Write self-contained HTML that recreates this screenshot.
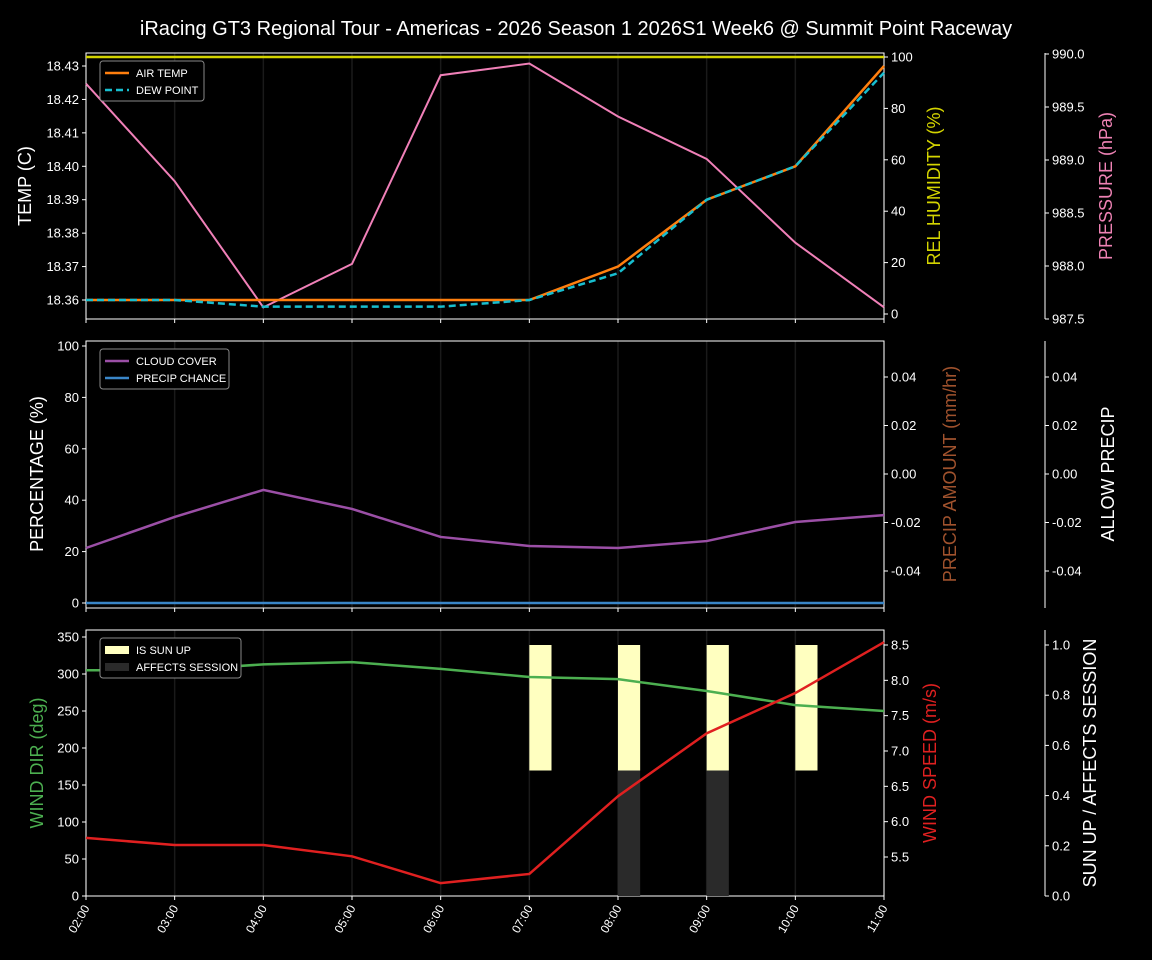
<!DOCTYPE html>
<html><head><meta charset="utf-8"><style>
html,body{margin:0;padding:0;background:#000;}
svg{display:block;font-family:"Liberation Sans","DejaVu Sans",sans-serif;}
</style></head><body>
<svg id="c" width="1152" height="960"></svg>
<script>
const hours=["02:00","03:00","04:00","05:00","06:00","07:00","08:00","09:00","10:00","11:00"];
const airTemp=[18.36,18.36,18.36,18.36,18.36,18.36,18.37,18.39,18.40,18.43];
const dewPoint=[18.36,18.36,18.358,18.358,18.358,18.36,18.368,18.39,18.40,18.428];
const humidity=[100,100,100,100,100,100,100,100,100,100];
const pressure=[989.72,988.80,987.61,988.02,989.80,989.91,989.41,989.01,988.22,987.61];
const cloudCover=[21.4,33.5,44,36.6,25.7,22.2,21.4,24.1,31.5,34.2];
const precipChance=[0,0,0,0,0,0,0,0,0,0];
const windDir=[305,305,313,316,307,296,293,277,258,250];
const windSpeed=[5.77,5.67,5.67,5.51,5.13,5.26,6.36,7.25,7.82,8.54];
const sunUp=[0,0,0,0,0,1,1,1,1,0];
const affects=[0,0,0,0,0,0,1,1,0,0];
const tempTicks=["18.36","18.37","18.38","18.39","18.40","18.41","18.42","18.43"];
const humTicks=[0,20,40,60,80,100];
const presTicks=["987.5","988.0","988.5","989.0","989.5","990.0"];
const pctTicks=[0,20,40,60,80,100];
const precTicks=["-0.04","-0.02","0.00","0.02","0.04"];
const dirTicks=[0,50,100,150,200,250,300,350];
const spdTicks=["5.5","6.0","6.5","7.0","7.5","8.0","8.5"];
const sunTicks=["0.0","0.2","0.4","0.6","0.8","1.0"];

const svg=document.getElementById('c');
const NS='http://www.w3.org/2000/svg';
function el(t,a,p){const e=document.createElementNS(NS,t);for(const k in a)e.setAttribute(k,a[k]);(p||svg).appendChild(e);return e;}
function txt(s,a,name){const e=el('text',a);e.textContent=s;

return e;}
const X0=86,X1=884;
const xs=i=>X0+(X1-X0)*i/(hours.length-1);
function lin(d0,d1,p0,p1){return v=>p0+(v-d0)*(p1-p0)/(d1-d0);}
function poly(vals,sx,sy,style,name){const pts=vals.map((v,i)=>sx(i)+','+sy(v)).join(' ');
const e=el('polyline',Object.assign({points:pts,fill:'none'},style));

return e;}
function yTicks(vals,sy,x,side,name){vals.forEach(v=>{const y=sy(parseFloat(v));
el('line',{x1:x,x2:x+(side<0?-4:4),y1:y,y2:y,stroke:'#fff','stroke-width':1});
txt(String(v),{x:side<0?x-7:x+7,y:y+4.5,fill:'#fff','font-size':13,'text-anchor':side<0?'end':'start'},name+'-tick');});}
function ylabel(s,x,y,color,name,size){txt(s,{x:x,y:y,fill:color,'font-size':size||18,'text-anchor':'middle',transform:`rotate(-90 ${x} ${y})`},name);}
function panel(top,bot,name){
for(let i=0;i<hours.length;i++)el('line',{x1:xs(i),x2:xs(i),y1:top,y2:bot,stroke:'#1a1a1a','stroke-width':1.5});
const r=el('rect',{x:X0,y:top,width:X1-X0,height:bot-top,fill:'none',stroke:'#fff','stroke-width':1});


hours.forEach((h,i)=>el('line',{x1:xs(i),x2:xs(i),y1:bot,y2:bot+4,stroke:'#fff'}));}
function legend(x,y,w,items,name){const g=el('g',{});


el('rect',{x:x,y:y,width:w,height:items.length*17+6,rx:3,fill:'#000',stroke:'#888','stroke-width':1},g);
items.forEach((it,k)=>{const yy=y+12+k*17;
if(it.box)el('rect',{x:x+5,y:yy-4,width:24,height:8,fill:it.c},g);
else el('line',{x1:x+5,x2:x+29,y1:yy,y2:yy,stroke:it.c,'stroke-width':2.5,'stroke-dasharray':it.d||''},g);
const t=el('text',{x:x+36,y:yy+4,fill:'#fff','font-size':11},g);t.textContent=it.t;});}

txt('iRacing GT3 Regional Tour - Americas - 2026 Season 1 2026S1 Week6 @ Summit Point Raceway',{x:576,y:35,fill:'#fff','font-size':20,'text-anchor':'middle'},'chart-title');

const T1=53,B1=319;
panel(T1,B1,'temp-panel');
const sT=lin(18.36,18.43,300,66), sH=lin(0,100,314,57), sP=lin(987.5,990,319,54);
yTicks(tempTicks,sT,X0,-1,'temp');
yTicks(humTicks,sH,X1,1,'humidity');
el('line',{x1:1045,x2:1045,y1:T1,y2:B1,stroke:'#fff'});
yTicks(presTicks,sP,1045,1,'pressure');
ylabel('TEMP (C)',31,186,'#fff','temp-axis-title');
ylabel('REL HUMIDITY (%)',940,186,'#d4d400','humidity-axis-title');
ylabel('PRESSURE (hPa)',1112,186,'#ee82b4','pressure-axis-title');
poly(humidity,xs,sH,{stroke:'#d4d400','stroke-width':2.5},'humidity-line');
poly(pressure,xs,sP,{stroke:'#f080b8','stroke-width':2},'pressure-line');
poly(airTemp,xs,sT,{stroke:'#ff7f0e','stroke-width':2.5},'air-temp-line');
poly(dewPoint,xs,sT,{stroke:'#17becf','stroke-width':2.5,'stroke-dasharray':'7,4'},'dew-point-line');
legend(100,61,104,[{t:'AIR TEMP',c:'#ff7f0e'},{t:'DEW POINT',c:'#17becf',d:'7,4'}],'temp-legend');

const T2=341,B2=608;
panel(T2,B2,'cloud-panel');
const sC=lin(0,100,603,346), sA=lin(-0.04,0.04,571,377);
yTicks(pctTicks,sC,X0,-1,'percentage');
yTicks(precTicks,sA,X1,1,'precip-amount');
el('line',{x1:1045,x2:1045,y1:T2,y2:B2,stroke:'#fff'});
yTicks(precTicks,sA,1045,1,'allow-precip');
ylabel('PERCENTAGE (%)',43,474,'#fff','percentage-axis-title');
ylabel('PRECIP AMOUNT (mm/hr)',956,474,'#a0522d','precip-amount-axis-title');
ylabel('ALLOW PRECIP',1114,474,'#fff','allow-precip-axis-title');
poly(cloudCover,xs,sC,{stroke:'#9b4fa6','stroke-width':2.5},'cloud-cover-line');
poly(precipChance,xs,sC,{stroke:'#3a86c8','stroke-width':2.5},'precip-chance-line');
legend(100,349,129,[{t:'CLOUD COVER',c:'#9b4fa6'},{t:'PRECIP CHANCE',c:'#3a86c8'}],'cloud-legend');

const T3=630,B3=896;
panel(T3,B3,'wind-panel');
const sD=lin(0,350,896,637), sS=lin(5.5,8.5,857,645), sU=lin(0,1,896,645);
const bw=(X1-X0)/(hours.length-1)*0.25;
sunUp.forEach((v,i)=>{if(v){const r=el('rect',{x:xs(i),y:sU(v),width:bw,height:sU(0.5)-sU(v),fill:'#ffffc0'});

}});
affects.forEach((v,i)=>{if(v){const r=el('rect',{x:xs(i),y:sU(v*0.5),width:bw,height:sU(0)-sU(v*0.5),fill:'#2a2a2a'});

}});
yTicks(dirTicks,sD,X0,-1,'wind-dir');
yTicks(spdTicks,sS,X1,1,'wind-speed');
el('line',{x1:1045,x2:1045,y1:T3,y2:B3,stroke:'#fff'});
yTicks(sunTicks,sU,1045,1,'sun-up');
ylabel('WIND DIR (deg)',43,763,'#4caf50','wind-dir-axis-title');
ylabel('WIND SPEED (m/s)',936,763,'#e02020','wind-speed-axis-title');
ylabel('SUN UP / AFFECTS SESSION',1096,763,'#fff','sun-up-axis-title');
poly(windDir,xs,sD,{stroke:'#4caf50','stroke-width':2.5},'wind-dir-line');
poly(windSpeed,xs,sS,{stroke:'#e02020','stroke-width':2.5},'wind-speed-line');
legend(100,638,141,[{t:'IS SUN UP',c:'#ffffc0',box:1},{t:'AFFECTS SESSION',c:'#2a2a2a',box:1}],'sun-legend');
hours.forEach((h,i)=>{const x=xs(i),y=904;
txt(h,{x:x+4,y:y+4,fill:'#fff','font-size':12,'text-anchor':'end',transform:`rotate(-60 ${x+4} ${y+4})`},'x-tick-label');});
</script>
</body></html>
